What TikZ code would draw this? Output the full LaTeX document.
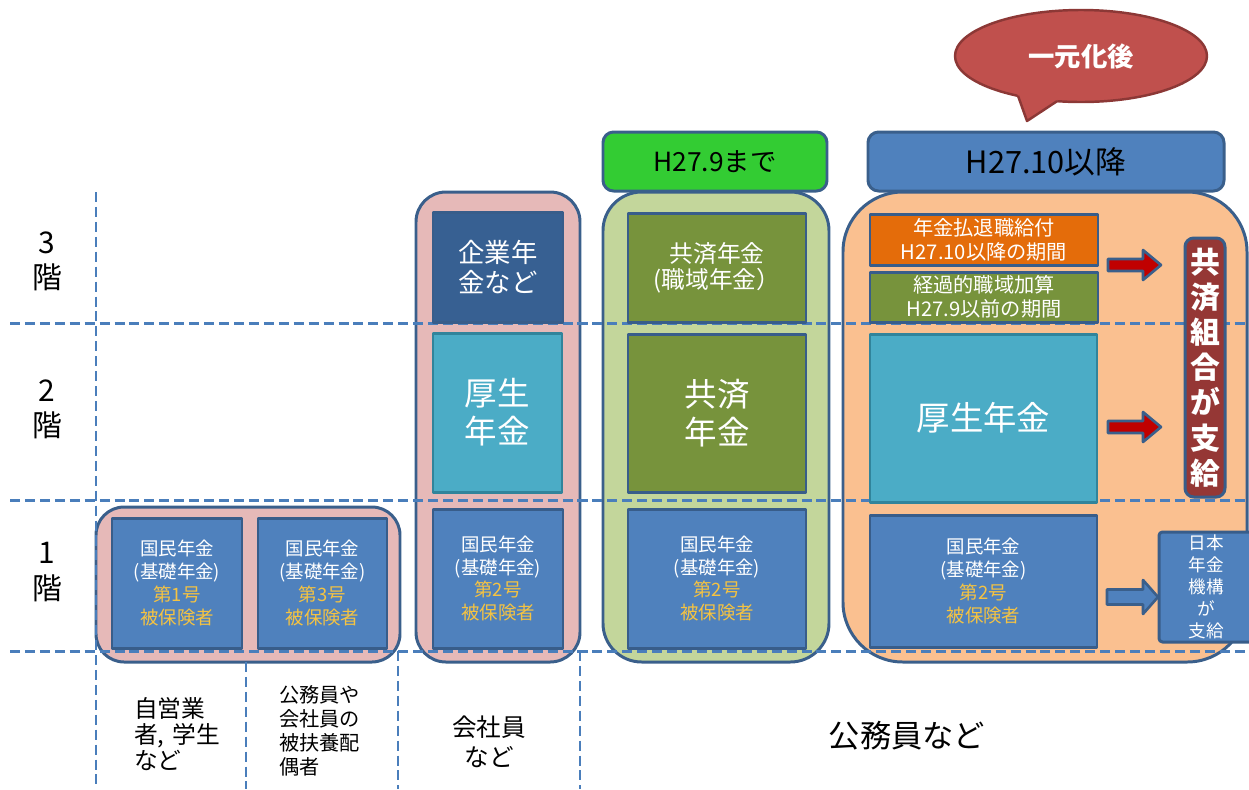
\documentclass[tikz,border=0pt]{standalone}
\usepackage{fontspec}
\setmainfont{Noto Sans CJK JP}
\usepackage{tikz}
\usetikzlibrary{shapes.geometric}
\newcommand{\pxu}{0.02cm}
\newcommand{\kiso}[1]{国民年金\\(基礎年金)\\\textcolor{gold}{第#1号}\\\textcolor{gold}{被保険者}}
\definecolor{grpline}{HTML}{3A5F8B}
\definecolor{edgeblue}{HTML}{385D8A}
\definecolor{pinkfill}{HTML}{E6B9B8}
\definecolor{greenfill}{HTML}{C3D69B}
\definecolor{orangefill}{HTML}{FAC090}
\definecolor{hdrgreen}{HTML}{33CC33}
\definecolor{boxblue}{HTML}{4F81BD}
\definecolor{darkblue}{HTML}{376092}
\definecolor{teal}{HTML}{4BACC6}
\definecolor{tealedge}{HTML}{31849B}
\definecolor{olive}{HTML}{77933C}
\definecolor{orangebox}{HTML}{E46C0A}
\definecolor{kyosai}{HTML}{953735}
\definecolor{redarrow}{HTML}{C00000}
\definecolor{bubblered}{HTML}{C0504D}
\definecolor{bubbleedge}{HTML}{8C3836}
\definecolor{gold}{HTML}{F5C342}
\definecolor{dashblue}{HTML}{4A7EBB}

\begin{document}
\begin{tikzpicture}[line join=round,x=0.02cm,y=-0.02cm,
    wh/.style 2 args={minimum width=#1*\pxu,minimum height=#2*\pxu},
    grp/.style={draw=grpline,line width=1.7pt,inner sep=0pt},
    hdr/.style={draw=grpline,line width=1.7pt,inner sep=0pt,rounded corners=6pt,font=\fontsize{15}{18}\selectfont},
    box/.style={draw=edgeblue,line width=1.7pt,inner sep=0pt,text=white,align=center},
    kbox/.style={box,fill=boxblue,font=\fontsize{10.5}{13}\selectfont},
    floor/.style={align=center,font=\fontsize{17}{20}\selectfont},
    grid/.style={draw=dashblue,line width=1.7pt,dash pattern=on 5.7pt off 2.8pt},
    arr/.style={draw=grpline,line width=1.5pt}]
\useasboundingbox (0,0) rectangle (1249,789);

% groups
\node[grp,fill=pinkfill,rounded corners=16pt,wh={304}{155}] (g1) at (248,584.5) {};
\node[grp,fill=pinkfill,rounded corners=17pt,wh={164}{470}] (g2) at (498,427) {};
\node[grp,fill=greenfill,rounded corners=22pt,wh={226}{470}] (g3) at (716,427) {};
\node[grp,fill=orangefill,rounded corners=34pt,wh={404}{470}] (g4) at (1045,427) {};

\node[hdr,fill=hdrgreen,wh={224}{59}] (hmade) at (715,161.5) {H27.9まで};
\node[hdr,fill=boxblue,wh={356}{59},font=\fontsize{17.5}{20}\selectfont] (higo) at (1046,161.5) {H27.10以降};

% dashed grid
\foreach \y in {323,500,651}
  \draw[grid] (10,\y) -- (1249,\y);
\draw[grid] (96,192) -- (96,789);
\draw[grid] (246,662) -- (246,789);
\foreach \x in {398,580}
  \draw[grid] (\x,651) -- (\x,789);

\node[floor] (f3) at (47,261) {3\\階};
\node[floor] (f2) at (47,409) {2\\階};
\node[floor] (f1) at (47,572) {1\\階};

% 1st column
\node[kbox,wh={130}{130}] (k1) at (177,583) {\kiso{1}};
\node[kbox,wh={129}{130}] (k3) at (322.5,583) {\kiso{3}};

% 会社員
\node[box,fill=darkblue,wh={130}{110},font=\fontsize{15}{17}\selectfont] (kigyo) at (498,267) {企業年\\金など};
\node[box,fill=teal,draw=tealedge,wh={129}{159},font=\fontsize{18.5}{21.5}\selectfont] (kosei1) at (497.5,412.5) {厚生\\年金};
\node[kbox,wh={130}{139}] (k2a) at (498,578.5) {\kiso{2}};

% H27.9まで
\node[box,fill=olive,wh={178}{109},font=\fontsize{13.5}{15}\selectfont] (shokuiki) at (717,267.5) {共済年金\\(職域年金）};
\node[box,fill=olive,wh={178}{158},font=\fontsize{18.5}{21.5}\selectfont] (kyosai1) at (717,413) {共済\\年金};
\node[kbox,wh={178}{139}] (k2b) at (717,578.5) {\kiso{2}};

% H27.10以降
\node[box,fill=orangebox,wh={228}{51},font=\fontsize{11.5}{13.5}\selectfont] (harai) at (984,239.5) {年金払退職給付\\H27.10以降の期間};
\node[box,fill=olive,wh={228}{50},font=\fontsize{11.5}{13.5}\selectfont] (keika) at (984,297) {経過的職域加算\\H27.9以前の期間};
\node[box,fill=teal,draw=tealedge,wh={227}{168},font=\fontsize{19}{22}\selectfont] (kosei2) at (983.5,418) {厚生年金};
\node[kbox,wh={227}{132}] (k2c) at (983.5,581) {\kiso{2}};

\foreach \y in {265,427}
  \draw[arr,fill=redarrow] (1108,\y) ++(0,-6) -- ++(35,0) -- ++(0,-9) -- ++(18,15) -- ++(-18,15) -- ++(0,-9) -- ++(-35,0) -- cycle;
\draw[arr,fill=boxblue] (1107,597) ++(0,-7.5) -- ++(36,0) -- ++(0,-9.5) -- ++(15,17) -- ++(-15,17) -- ++(0,-9.5) -- ++(-36,0) -- cycle;

\node[box,fill=kyosai,rounded corners=5pt,wh={40}{259},font=\bfseries\fontsize{17}{20}\selectfont] (kumiai) at (1205,367.5) {共\\済\\組\\合\\が\\支\\給};
\node[box,fill=boxblue,rounded corners=2pt,wh={95}{110},font=\fontsize{10}{12.5}\selectfont] (kikou) at (1206.5,587) {日本\\年金\\機構\\が\\支給};

% bubble
\node[ellipse,draw=bubbleedge,line width=1.4pt,fill=bubblered,wh={252}{92},text=white,font=\bfseries\fontsize{15}{18}\selectfont] (ichigen) at (1081,56) {一元化後};
\fill[bubblered] (1016,90) -- (1018,95.8) -- (1027,121) -- (1057,101.2) -- (1060,95) -- cycle;
\draw[draw=bubbleedge,line width=1.4pt] (1018,95.8) -- (1027,121) -- (1057,101.2);

% bottom labels
\node[align=left,anchor=west,font=\fontsize{13.5}{15}\selectfont] (jiei) at (128,734) {自営業\\者,\hspace{0.35em}学生\\など};
\node[align=left,anchor=west,font=\fontsize{11.5}{13.6}\selectfont] (fuyo) at (273,731) {公務員や\\会社員の\\被扶養配\\偶者};
\node[align=center,font=\fontsize{14}{17}\selectfont] (kaishain) at (489,742) {会社員\\など};
\node[font=\fontsize{17.8}{20}\selectfont] (koumuin) at (907,736) {公務員など};
\end{tikzpicture}
\end{document}
